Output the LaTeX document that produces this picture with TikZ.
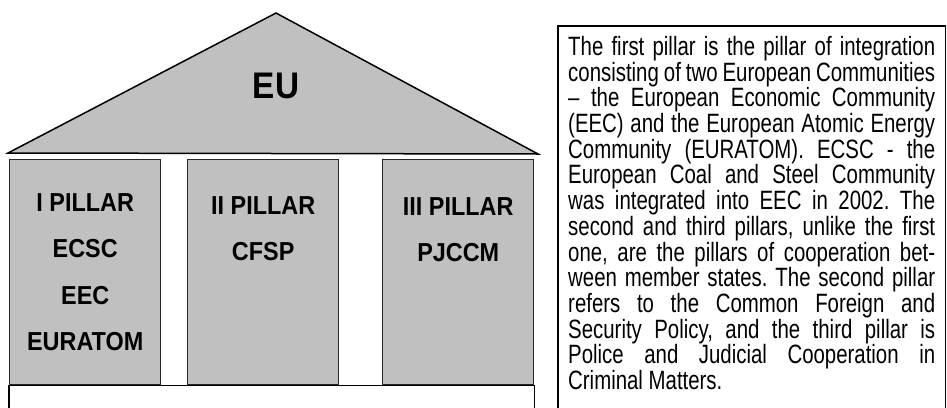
\documentclass[tikz,border=0pt]{standalone}
\usepackage{fontspec}
\newfontfamily\notefont{Liberation Sans}[FakeStretch=0.77, Ligatures=TeX]
\newfontfamily\pillarfont{Liberation Sans}[FakeStretch=0.9]
\usetikzlibrary{positioning}
\setlength{\parindent}{0pt}
\frenchspacing
\definecolor{pillargray}{RGB}{192,192,192}
\tikzset{roofshape/.style={draw, line width=1.5pt, fill=pillargray, line join=miter}}
\tikzset{pillarbox/.style={draw=black!85, line width=1.4pt, fill=pillargray, minimum width=151pt, minimum height=225pt, anchor=north west, inner sep=0pt}}
\tikzset{pillartext/.style={font=\pillarfont\bfseries\fontsize{26}{46.5}\selectfont, align=center, inner sep=0pt}}
\tikzset{eutext/.style={font=\pillarfont\bfseries\fontsize{37}{40}\selectfont, inner sep=0pt}}
\tikzset{frame/.style={draw, line width=1.5pt}}
\tikzset{notetext/.style={font=\notefont\fontsize{26.5}{25.7}\selectfont, text width=367pt, align=justify, inner sep=10pt, anchor=north west}}

\begin{document}
\begin{tikzpicture}[x=1pt, y=-1pt]
	\useasboundingbox (0,0) rectangle (947,407);
	%
	\coordinate (eaveL) at (8,153);
	\coordinate (ridge) at (276,13);
	\coordinate (eaveR) at (538,154);
	\coordinate (foot) at (0,412);
	\draw[roofshape] (eaveL) -- (ridge) -- (eaveR) -- cycle;
	\node[eutext] (eu) at (276,86) {EU};
	%
	\node[pillarbox] (p1) at (9,159) {};
	\node[pillarbox] (p2) at (187,159) {};
	\node[pillarbox] (p3) at (382,159) {};
	\node[pillartext, below=34pt of p1.north] (t1) {I PILLAR\\ECSC\\EEC\\EURATOM};
	\node[pillartext, below=37pt of p2.north] (t2) {II PILLAR\\CFSP};
	\node[pillartext, below=38pt of p3.north] (t3) {III PILLAR\\PJCCM};
	%
	\draw[frame] (p1.south west) -- (p3.south east);
	\draw[frame] (p1.south west) -- (p1.south west |- foot);
	\draw[frame] (p3.south east) -- (p3.south east |- foot);
	%
	\node[notetext] (note) at (558,26) {The first pillar is the pillar of integration\linebreak
		consisting of two European Communities\linebreak
		-- the European Economic Community\linebreak
		(EEC) and the European Atomic Energy\linebreak
		Community (EURATOM). ECSC - the\linebreak
		European Coal and Steel Community\linebreak
		was integrated into EEC in 2002. The\linebreak
		second and third pillars, unlike the first\linebreak
		one, are the pillars of cooperation bet-\linebreak
		ween member states. The second pillar\linebreak
		refers to the Common Foreign and\linebreak
		Security Policy, and the third pillar is\linebreak
		Police and Judicial Cooperation in\linebreak
		Criminal Matters.};
	\draw[frame] (note.north west |- foot) |- (note.north east) -- (note.north east |- foot);
\end{tikzpicture}
\end{document}
